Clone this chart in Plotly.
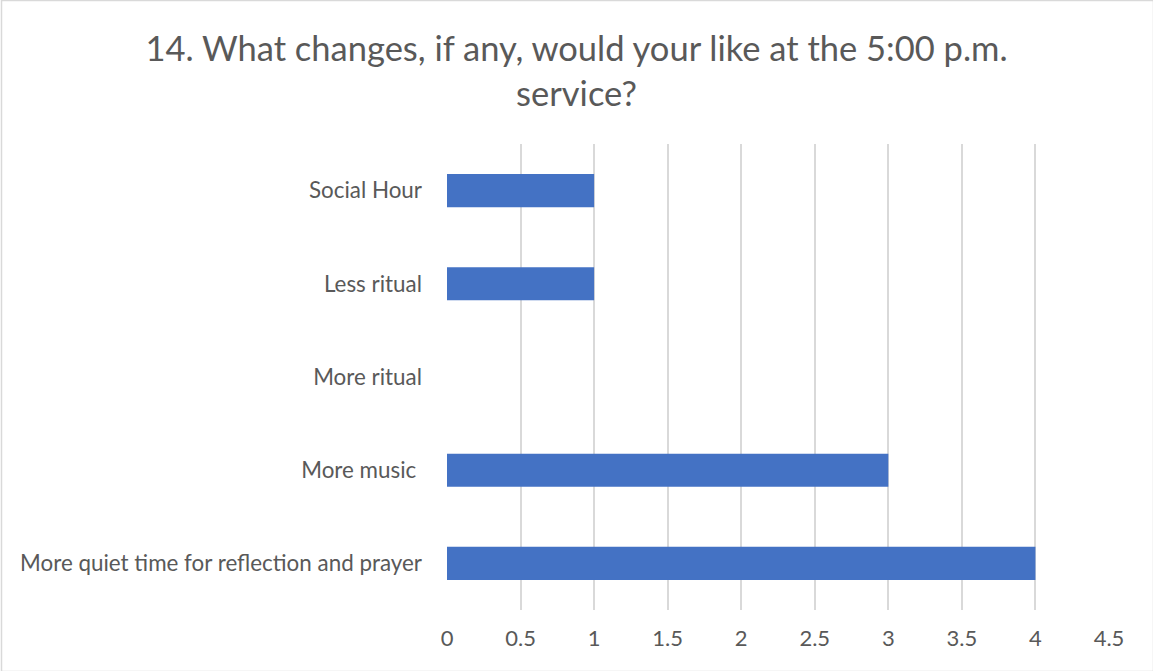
import plotly.graph_objects as go

categories = ["More quiet time for reflection and prayer", "More music ", "More ritual", "Less ritual", "Social Hour"]
values = [4, 3, 0, 1, 1]
x_ticks = [0, 0.5, 1, 1.5, 2, 2.5, 3, 3.5, 4, 4.5]
x_tick_labels = ["0", "0.5", "1", "1.5", "2", "2.5", "3", "3.5", "4", "4.5"]
title_text = "14. What changes, if any, would your like at the 5:00 p.m.<br>service?"

W, H = 1153, 671
L, R, T, B = 447, 44, 144, 61
pw, ph = W - L - R, H - T - B

def px(x):
    return (x - L) / pw

def py(y):
    return 1 - (y - T) / ph

fig = go.Figure(go.Bar(
    x=values, y=categories, orientation="h",
    marker=dict(color="#4472c4", line=dict(width=0)),
))

fig.update_layout(
    width=W, height=H,
    margin=dict(l=L, r=R, t=T, b=B),
    paper_bgcolor="white", plot_bgcolor="white",
    font=dict(family="Lato", color="#595959", size=20),
    title=dict(text=title_text, x=0.5, xanchor="center", xref="container",
               y=1 - 61 / H, yanchor="middle", yref="container",
               font=dict(size=34.5, color="#595959", family="Lato")),
    bargap=0.645,
    showlegend=False,
    xaxis=dict(range=[0, 4.5], tickvals=x_ticks, ticktext=x_tick_labels,
               showgrid=True, gridcolor="#d9d9d9", gridwidth=1.5,
               zeroline=False, showline=False, ticks="",
               tickfont=dict(size=22, color="#595959"), ticklabelstandoff=13),
    yaxis=dict(categoryorder="array", categoryarray=categories,
               showgrid=False, zeroline=False, showline=False, ticks="",
               tickfont=dict(size=22.4, color="#595959"), ticklabelstandoff=24),
    shapes=[dict(type="rect", xref="paper", yref="paper",
                 x0=px(1.5), x1=px(1153.5), y0=py(0.5), y1=py(671.5),
                 line=dict(color="#d9d9d9", width=1.5), fillcolor="rgba(0,0,0,0)",
                 layer="below")],
)

fig.write_html("out.html", config={"displayModeBar": False},
               post_script="document.body.style.margin='0';")
